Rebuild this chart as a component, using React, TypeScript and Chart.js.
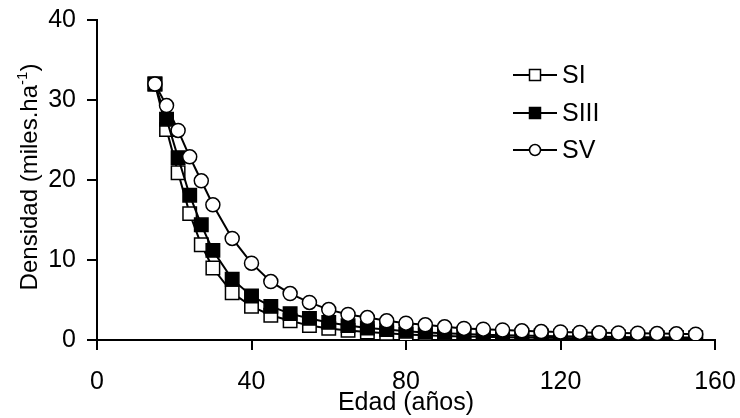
import React, { useEffect, useRef } from "react";
import { Chart, registerables } from "chart.js";

Chart.register(...registerables);

// ---- data ----
const ages = [15, 18, 21, 24, 27, 30, 35, 40, 45, 50, 55, 60, 65, 70, 75, 80, 85, 90, 95, 100, 105, 110, 115, 120, 125, 130, 135, 140, 145, 150, 155];
const siValues = [32.0, 26.3, 20.9, 15.8, 11.9, 9.0, 5.9, 4.2, 3.1, 2.4, 1.8, 1.45, 1.2, 1.0, 0.85, 0.7, 0.6, 0.5, 0.45, 0.4, 0.35, 0.3, 0.28, 0.25, 0.22, 0.2, 0.18, 0.16, 0.15, 0.14, 0.13];
const siiiValues = [32.0, 27.6, 22.8, 18.1, 14.4, 11.2, 7.6, 5.5, 4.2, 3.3, 2.7, 2.2, 1.8, 1.5, 1.3, 1.1, 0.95, 0.85, 0.75, 0.67, 0.6, 0.55, 0.5, 0.46, 0.43, 0.4, 0.37, 0.35, 0.33, 0.31, 0.3];
const svValues = [32.0, 29.3, 26.2, 22.9, 19.9, 16.9, 12.7, 9.6, 7.3, 5.8, 4.7, 3.8, 3.2, 2.8, 2.4, 2.1, 1.9, 1.65, 1.45, 1.35, 1.25, 1.15, 1.05, 1.0, 0.95, 0.9, 0.87, 0.84, 0.8, 0.77, 0.73];
const seriesNames = ["SI", "SIII", "SV"];
const xMin = 0;
const xMax = 160;
const xStep = 40;
const yMin = 0;
const yMax = 40;
const yStep = 10;
const xTitle = "Edad (años)";
const yTitleMain = "Densidad (miles.ha";
const yTitleSup = "-1";
const yTitleEnd = ")";

const FONT = "'Liberation Sans', Arial, Helvetica, sans-serif";

function toPoints(values: number[]) {
  return ages.map((a, i) => ({ x: a, y: values[i] }));
}

function drawMarker(ctx: CanvasRenderingContext2D, kind: string, x: number, y: number) {
  ctx.save();
  ctx.lineWidth = 1.5;
  ctx.strokeStyle = "#000";
  if (kind === "openSquare" || kind === "filledSquare") {
    const s = 11;
    ctx.fillStyle = kind === "filledSquare" ? "#000" : "#fff";
    ctx.fillRect(x - s / 2, y - s / 2, s, s);
    ctx.strokeRect(x - s / 2, y - s / 2, s, s);
  } else {
    ctx.fillStyle = "#fff";
    ctx.beginPath();
    ctx.arc(x, y, 5.5, 0, Math.PI * 2);
    ctx.fill();
    ctx.stroke();
  }
  ctx.restore();
}

const overlayPlugin = {
  id: "overlay",
  afterDraw(chart: any) {
    const ctx: CanvasRenderingContext2D = chart.ctx;
    const area = chart.chartArea;
    ctx.save();
    ctx.fillStyle = "#000";

    // x title
    ctx.font = `25px ${FONT}`;
    ctx.textAlign = "center";
    ctx.textBaseline = "alphabetic";
    ctx.fillText(xTitle, (area.left + area.right) / 2, 410);

    // y title with superscript
    ctx.save();
    ctx.translate(37, (area.top + area.bottom) / 2 - 3);
    ctx.rotate(-Math.PI / 2);
    ctx.textAlign = "left";
    const mainFont = `24px ${FONT}`;
    const supFont = `15px ${FONT}`;
    ctx.font = mainFont;
    const w1 = ctx.measureText(yTitleMain).width;
    const w3 = ctx.measureText(yTitleEnd).width;
    ctx.font = supFont;
    const w2 = ctx.measureText(yTitleSup).width;
    const total = w1 + w2 + w3;
    let x0 = -total / 2;
    ctx.font = mainFont;
    ctx.fillText(yTitleMain, x0, 0);
    x0 += w1;
    ctx.font = supFont;
    ctx.fillText(yTitleSup, x0, -10);
    x0 += w2;
    ctx.font = mainFont;
    ctx.fillText(yTitleEnd, x0, 0);
    ctx.restore();

    // legend
    const kinds = ["openSquare", "filledSquare", "circle"];
    const ys = [75, 113, 150];
    ctx.font = `25px ${FONT}`;
    ctx.textAlign = "left";
    ctx.textBaseline = "middle";
    seriesNames.forEach((name, i) => {
      const y = ys[i];
      ctx.strokeStyle = "#000";
      ctx.lineWidth = 2;
      ctx.beginPath();
      ctx.moveTo(513, y);
      ctx.lineTo(557, y);
      ctx.stroke();
      drawMarker(ctx, kinds[i], 535, y);
      ctx.fillStyle = "#000";
      ctx.fillText(name, 562, y + 1);
    });

    ctx.restore();
  },
};

export default function App() {
  const canvasRef = useRef<HTMLCanvasElement | null>(null);

  useEffect(() => {
    const canvas = canvasRef.current;
    if (!canvas) return;
    const common = {
      borderColor: "#000",
      borderWidth: 2,
      pointBorderColor: "#000",
      pointBorderWidth: 1.5,
      tension: 0,
      fill: false,
    };
    const chart = new Chart(canvas, {
      type: "line",
      data: {
        datasets: [
          {
            ...common,
            label: seriesNames[0],
            data: toPoints(siValues),
            pointStyle: "rect",
            pointRadius: 9.5,
            pointBackgroundColor: "#fff",
            order: 3,
          },
          {
            ...common,
            label: seriesNames[1],
            data: toPoints(siiiValues),
            pointStyle: "rect",
            pointRadius: 9.5,
            pointBackgroundColor: "#000",
            order: 2,
          },
          {
            ...common,
            label: seriesNames[2],
            data: toPoints(svValues),
            pointStyle: "circle",
            pointRadius: 7,
            pointBackgroundColor: "#fff",
            order: 1,
          },
        ],
      },
      options: {
        animation: false,
        responsive: false,
        events: [],
        layout: { padding: { top: 20, right: 25, bottom: 0, left: 0 } },
        plugins: {
          legend: { display: false },
          tooltip: { enabled: false },
          title: { display: false },
        },
        scales: {
          x: {
            type: "linear",
            min: xMin,
            max: xMax,
            ticks: {
              stepSize: xStep,
              color: "#000",
              font: { family: FONT, size: 25 },
              padding: 17,
              maxRotation: 0,
            },
            grid: {
              drawOnChartArea: false,
              drawTicks: true,
              tickLength: 10,
              color: "#000",
              lineWidth: 2,
            },
            border: { display: true, color: "#000", width: 2 },
            afterFit: (s: any) => {
              s.height = 78;
              s.paddingLeft = 0;
              s.paddingRight = 0;
            },
          },
          y: {
            type: "linear",
            min: yMin,
            max: yMax,
            ticks: {
              stepSize: yStep,
              color: "#000",
              font: { family: FONT, size: 25 },
              padding: 11,
            },
            grid: {
              drawOnChartArea: false,
              drawTicks: true,
              tickLength: 10,
              color: "#000",
              lineWidth: 2,
            },
            border: { display: true, color: "#000", width: 2 },
            afterFit: (s: any) => {
              s.width = 97;
              s.paddingTop = 0;
              s.paddingBottom = 0;
            },
          },
        },
      },
      plugins: [overlayPlugin],
    } as any);
    return () => chart.destroy();
  }, []);

  return (
    <div style={{ position: "fixed", left: 0, top: 0, width: 740, height: 418, background: "#fff" }}>
      <canvas ref={canvasRef} width={740} height={418} style={{ display: "block" }} />
    </div>
  );
}
